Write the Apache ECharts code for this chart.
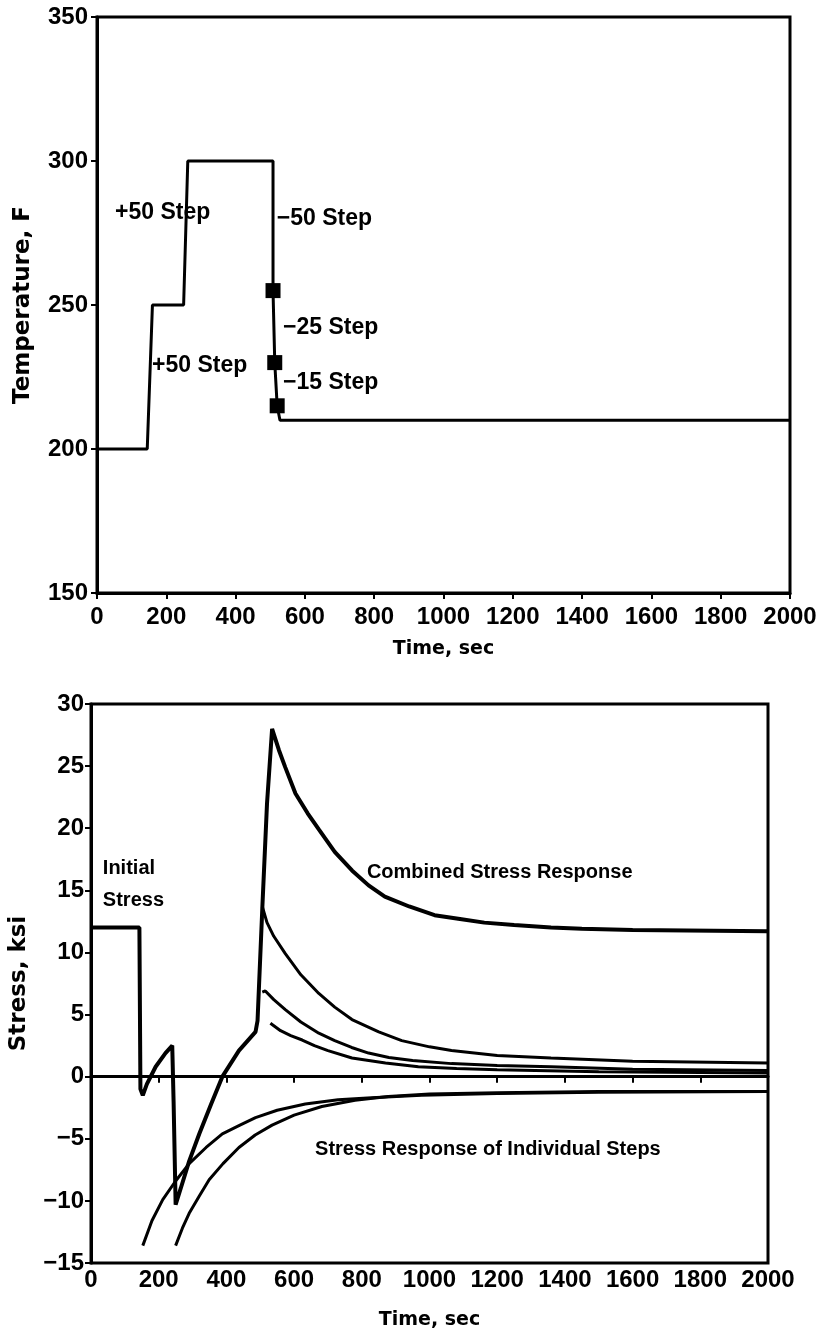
<!DOCTYPE html>
<html>
<head>
<meta charset="utf-8">
<script src="https://cdn.jsdelivr.net/npm/echarts@6/dist/echarts.min.js"></script>
<style>
  html, body { margin: 0; padding: 0; background: #fff; }
  #main { width: 820px; height: 1336px; }
</style>
</head>
<body>
<div id="main"></div>
<script>
// temperature history (top chart)
var tempTime = [0, 145, 160, 250, 262, 508, 508, 513, 520, 528, 2000];
var tempVal  = [200, 200, 250, 250, 300, 300, 255, 230, 215, 210, 210];
var markTime = [508, 513, 520];
var markVal  = [255, 230, 215];
var stepText = ['+50 Step', '+50 Step', '-50 Step', '-25 Step', '-15 Step'];
var stepTime = [52, 159, 519, 537, 537];
var stepTemp = [282, 229, 280, 242, 223];

// stress responses (bottom chart)
var combTime = [0, 143, 146, 153, 165, 191, 220, 240, 244, 250, 265, 290, 320, 355, 388, 437, 486, 492, 506, 520, 535, 555, 574, 604, 640, 673, 720, 771, 820, 868, 940, 1015, 1090, 1162, 1250, 1359, 1450, 1600, 2000];
var combVal  = [12, 12, -1.0, -1.5, -0.6, 0.8, 1.9, 2.5, -2, -10.3, -9.0, -6.8, -4.6, -2.2, 0, 2.1, 3.6, 4.5, 13.5, 22, 28, 26.3, 24.9, 22.8, 21.2, 19.9, 18.1, 16.6, 15.4, 14.5, 13.7, 13.0, 12.7, 12.4, 12.2, 12.0, 11.9, 11.8, 11.7];
var stepATime = [506, 520, 540, 574, 620, 673, 720, 771, 850, 918, 1000, 1065, 1200, 1359, 1600, 2000];
var stepAVal  = [13.7, 12.4, 11.3, 9.9, 8.2, 6.7, 5.6, 4.6, 3.6, 2.9, 2.4, 2.1, 1.7, 1.5, 1.25, 1.1];
var stepBTime = [506, 515, 540, 574, 620, 673, 720, 770, 820, 880, 950, 1065, 1200, 1359, 1600, 2000];
var stepBVal  = [6.8, 6.9, 6.2, 5.4, 4.4, 3.5, 2.9, 2.35, 1.9, 1.55, 1.3, 1.05, 0.9, 0.8, 0.6, 0.5];
var stepCTime = [530, 560, 590, 624, 660, 700, 771, 870, 967, 1080, 1200, 1500, 2000];
var stepCVal  = [4.3, 3.7, 3.3, 2.95, 2.5, 2.1, 1.5, 1.1, 0.8, 0.65, 0.55, 0.4, 0.3];
var stepDTime = [153, 180, 212, 250, 290, 340, 388, 440, 486, 550, 633, 730, 829, 976, 1200, 1500, 2000];
var stepDVal  = [-13.6, -11.6, -9.9, -8.4, -7.0, -5.7, -4.6, -3.9, -3.3, -2.7, -2.2, -1.85, -1.7, -1.5, -1.35, -1.25, -1.2];
var stepETime = [250, 270, 290, 320, 349, 390, 437, 485, 535, 600, 682, 780, 878, 1000, 1200, 1500, 2000];
var stepEVal  = [-13.6, -12.2, -11.0, -9.6, -8.3, -7.0, -5.7, -4.7, -3.9, -3.1, -2.4, -1.9, -1.6, -1.4, -1.3, -1.2, -1.2];
var noteText = ['Initial\nStress', 'Combined Stress Response', 'Stress Response of Individual Steps'];
var noteTime = [35, 815, 662];
var noteVal  = [15.5, 16.4, -5.9];

function zip(a, b) {
  return a.map(function (v, i) { return [v, b[i]]; });
}
function plain(v) {
  return String(v).replace('-', '\u2212');
}

var tickFont = { color: '#000', fontFamily: 'Liberation Sans', fontWeight: 'bold', fontSize: 24 };
var nameFont = { color: '#000', fontFamily: 'DejaVu Sans', fontWeight: 'bold', fontSize: 23 };

function xAxisFor(gridIndex, labelMargin, nameGap) {
  return {
    type: 'value', gridIndex: gridIndex, min: 0, max: 2000, interval: 200,
    name: 'Time, sec', nameLocation: 'middle', nameGap: nameGap,
    nameTextStyle: { color: '#000', fontFamily: 'DejaVu Sans', fontWeight: 'bold', fontSize: 19 },
    axisLine: { lineStyle: { color: '#000', width: 3 } },
    axisTick: { length: 6, lineStyle: { color: '#000', width: 2 } },
    axisLabel: Object.assign({ margin: labelMargin, formatter: plain }, tickFont),
    splitLine: { show: false }
  };
}

function noteSeries(x, y, texts, xi, yi, size) {
  return {
    type: 'scatter', xAxisIndex: xi, yAxisIndex: yi, symbolSize: 0,
    itemStyle: { color: '#000', opacity: 1 }, z: 5,
    data: x.map(function (v, i) { return { value: [v, y[i]], name: texts[i] }; }),
    label: {
      show: true, position: 'right', distance: 0, lineHeight: 32,
      color: '#000', fontFamily: 'Liberation Sans', fontWeight: 'bold', fontSize: size,
      formatter: function (p) { return p.name.replace('-', '\u2212'); }
    }
  };
}

function stepLine(t, v) {
  return {
    type: 'line', xAxisIndex: 1, yAxisIndex: 1, symbol: 'none',
    lineStyle: { color: '#000', width: 3 }, data: zip(t, v)
  };
}

var chart = echarts.init(document.getElementById('main'));

var option = {
  animation: false,
  backgroundColor: '#fff',
  grid: [
    { left: 97, top: 17, width: 693, height: 576, show: true, borderColor: '#000', borderWidth: 3 },
    { left: 88, top: 704, width: 680, height: 559, show: true, borderColor: '#000', borderWidth: 3 }
  ],
  xAxis: [xAxisFor(0, 12, 47), xAxisFor(1, 5, 48)],
  yAxis: [
    {
      type: 'value', gridIndex: 0, min: 150, max: 350, interval: 50,
      name: 'Temperature, F', nameLocation: 'middle', nameGap: 62, nameTextStyle: nameFont,
      axisLine: { lineStyle: { color: '#000', width: 3 } },
      axisTick: { length: 6, lineStyle: { color: '#000', width: 2 } },
      axisLabel: Object.assign({ margin: 9 }, tickFont),
      splitLine: { show: false }
    },
    {
      type: 'value', gridIndex: 1, min: -15, max: 30, interval: 5,
      name: 'Stress, ksi', nameLocation: 'middle', nameGap: 60, nameTextStyle: nameFont,
      axisLine: { onZero: false, lineStyle: { color: '#000', width: 3 } },
      axisTick: { length: 6, lineStyle: { color: '#000', width: 2 } },
      axisLabel: Object.assign({ margin: 7, formatter: plain }, tickFont),
      splitLine: { show: false }
    }
  ],
  series: [
    {
      type: 'line', xAxisIndex: 0, yAxisIndex: 0, symbol: 'none',
      lineStyle: { color: '#000', width: 3 },
      data: zip(tempTime, tempVal)
    },
    {
      type: 'scatter', xAxisIndex: 0, yAxisIndex: 0, symbol: 'rect', symbolSize: 15,
      itemStyle: { color: '#000', opacity: 1 },
      data: zip(markTime, markVal)
    },
    noteSeries(stepTime, stepTemp, stepText, 0, 0, 23),
    {
      type: 'line', xAxisIndex: 1, yAxisIndex: 1, symbol: 'none',
      lineStyle: { color: '#000', width: 4 },
      data: zip(combTime, combVal),
      markLine: {
        silent: true, symbol: 'none', label: { show: false },
        lineStyle: { color: '#000', width: 3, type: 'solid' },
        data: [{ yAxis: 0 }]
      }
    },
    stepLine(stepATime, stepAVal),
    stepLine(stepBTime, stepBVal),
    stepLine(stepCTime, stepCVal),
    stepLine(stepDTime, stepDVal),
    stepLine(stepETime, stepEVal),
    noteSeries(noteTime, noteVal, noteText, 1, 1, 20)
  ]
};

chart.setOption(option);
</script>
</body>
</html>
